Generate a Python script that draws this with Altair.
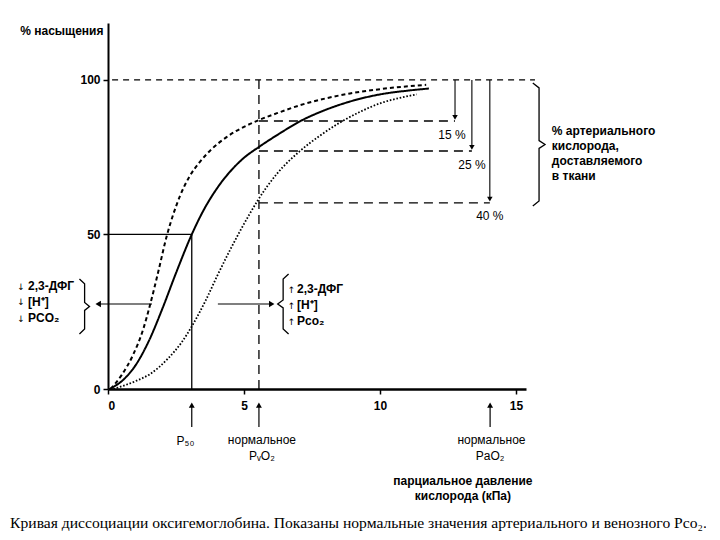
import altair as alt
import pandas as pd

# ---------------- data ----------------
normal_x = [0.05, 0.5, 1.0, 1.5, 2.0, 2.5, 3.08, 3.5, 4.0, 4.6, 5.0, 5.55, 6.3, 7.06, 8.0, 8.9, 10.0, 11.0, 11.8]
normal_y = [0, 2.5, 7.5, 15.5, 26, 37.5, 50, 57.6, 64.8, 71.4, 74.8, 78.3, 82.6, 86.6, 90.3, 93.0, 95.3, 96.5, 97.2]

left_x = [0.1, 0.5, 0.92, 1.3, 1.54, 1.85, 2.16, 2.4, 2.65, 3.0, 3.38, 3.8, 4.36, 5.0, 5.55, 6.3, 7.06, 8.0, 8.9, 10.0, 11.7]
left_y = [0, 4.5, 11, 19.5, 27, 38, 49.5, 56.5, 62.5, 68.8, 73.5, 77.5, 81.5, 84.8, 87.0, 89.5, 91.8, 94.0, 95.6, 97.0, 98.4]

right_x = [0.2, 1.0, 1.54, 2.2, 2.7, 3.13, 3.6, 4.0, 4.49, 4.85, 5.2, 5.52, 6.2, 7.06, 7.8, 8.53, 9.3, 10.1, 10.8, 11.35]
right_y = [0, 2.5, 4.8, 9.8, 15, 21, 28.8, 36.3, 45, 51, 56.5, 61.2, 69.5, 77, 82, 86.2, 89.8, 92.7, 94.3, 95.3]

P50 = 3.08
PV = 5.55
PA = 14.05
levels = [86.7, 77.0, 60.2]
level_labels = ["15 %", "25 %", "40 %"]
level_end_x = [12.76, 13.38, 14.04]

x_ticks = [0, 5, 10, 15]
y_ticks = [0, 50, 100]

FONT = "Liberation Sans"

xs = alt.Scale(domain=[0, 15.37], nice=False, zero=False)
ys = alt.Scale(domain=[0, 118.4], nice=False, zero=False)

xaxis = alt.Axis(values=x_ticks, title="", grid=False, domainColor="black", domainWidth=2.5,
                 tickColor="black", tickWidth=1.5, tickSize=5, labelFont=FONT, labelFontSize=12,
                 labelFontWeight="bold", labelColor="black", labelPadding=6, format="d")
yaxis = alt.Axis(values=y_ticks, title="% насыщения", grid=False, domainColor="black", domainWidth=2,
                 tickColor="black", tickWidth=1.5, tickSize=5, labelFont=FONT, labelFontSize=12,
                 labelFontWeight="bold", labelColor="black", labelPadding=3, format="d",
                 titleAngle=0, titleAlign="right", titleBaseline="middle", titleX=-5, titleY=7,
                 titleFont=FONT, titleFontSize=12, titleFontWeight="bold", titleColor="black")

X = alt.X("x:Q", scale=xs, axis=xaxis)
Y = alt.Y("y:Q", scale=ys, axis=yaxis)
X2 = alt.X2("x2:Q")
Y2 = alt.Y2("y2:Q")

# ---------------- curves ----------------
def curve(xv, yv, dash, width):
    df = pd.DataFrame({"x": xv, "y": yv})
    return alt.Chart(df).mark_line(color="black", strokeWidth=width, strokeDash=dash,
                                   interpolate="monotone").encode(x=X, y=Y)

c_normal = curve(normal_x, normal_y, [1, 0], 2)
c_left = curve(left_x, left_y, [4, 3], 2)
c_right = curve(right_x, right_y, [1.6, 1.8], 1.8)

# ---------------- guide lines ----------------
solid_rules = pd.DataFrame({
    "x": [0, P50], "x2": [P50, P50], "y": [50, 0], "y2": [50, 50]})
r_p50 = alt.Chart(solid_rules).mark_rule(color="black", strokeWidth=1.3).encode(x=X, x2=X2, y=Y, y2=Y2)

top_line = pd.DataFrame({"x": [0.15], "x2": [15.7], "y": [100], "y2": [100]})
r_top = alt.Chart(top_line).mark_rule(color="black", strokeWidth=1.2, strokeDash=[6, 5]).encode(
    x=X, x2=X2, y=Y, y2=Y2)

dash_rules = pd.DataFrame({
    "x": [PV] + [PV] * 3, "x2": [PV] + level_end_x,
    "y": [0] + levels, "y2": [100] + levels})
r_dash = alt.Chart(dash_rules).mark_rule(color="black", strokeWidth=1.3, strokeDash=[9, 6]).encode(
    x=X, x2=X2, y=Y, y2=Y2)

# vertical arrows of delivered oxygen
arr_v = pd.DataFrame({"x": level_end_x, "x2": level_end_x, "y": [100] * 3, "y2": [l + 1.5 for l in levels]})
r_arr_v = alt.Chart(arr_v).mark_rule(color="black", strokeWidth=1.1).encode(x=X, x2=X2, y=Y, y2=Y2)
tri_v = pd.DataFrame({"x": level_end_x, "y": [l + 1.2 for l in levels]})
p_tri_v = alt.Chart(tri_v).mark_point(shape="triangle-down", filled=True, color="black", size=30,
                                      opacity=1).encode(x=X, y=Y)

# horizontal shift arrows
harr = pd.DataFrame({"x": [1.62, 4.04], "x2": [-0.35, 6.0], "y": [27.5, 27.5], "y2": [27.5, 27.5]})
r_harr = alt.Chart(harr).mark_rule(color="black", strokeWidth=1.2).encode(x=X, x2=X2, y=Y, y2=Y2)
tri_l = pd.DataFrame({"x": [-0.36], "y": [27.5]})
p_tri_l = alt.Chart(tri_l).mark_point(shape="triangle-left", filled=True, color="black", size=40,
                                      opacity=1).encode(x=X, y=Y)
tri_r = pd.DataFrame({"x": [6.02], "y": [27.5]})
p_tri_r = alt.Chart(tri_r).mark_point(shape="triangle-right", filled=True, color="black", size=40,
                                      opacity=1).encode(x=X, y=Y)

# arrows below x axis
below_x = [P50, PV, PA]
barr = pd.DataFrame({"x": below_x, "x2": below_x, "y": [-12.3] * 3, "y2": [-5.5] * 3})
r_barr = alt.Chart(barr).mark_rule(color="black", strokeWidth=1.2).encode(x=X, x2=X2, y=Y, y2=Y2)
tri_u = pd.DataFrame({"x": below_x, "y": [-5.2] * 3})
p_tri_u = alt.Chart(tri_u).mark_point(shape="triangle-up", filled=True, color="black", size=35,
                                      opacity=1).encode(x=X, y=Y)

# ---------------- brackets ----------------
brackets = [
    # name, x of hooks, x of spine, x of tip, top, bottom
    ("left", -1.05, -0.86, -0.68, 35.6, 17.8),
    ("right", 6.64, 6.44, 6.24, 37.2, 17.8),
    ("big", 15.62, 15.85, 16.07, 99.0, 59.2),
]
rows = []
for name, xh, xv, xt, top, bot in brackets:
    mid = (top + bot) / 2
    d = 1.6
    pts = [(xh, top), (xv, top - d), (xv, mid + d * 0.8), (xt, mid), (xv, mid - d * 0.8),
           (xv, bot + d), (xh, bot)]
    for i, (px, py) in enumerate(pts):
        rows.append({"b": name, "o": i, "x": px, "y": py})
br = alt.Chart(pd.DataFrame(rows)).mark_line(color="black", strokeWidth=1.3, interpolate="linear").encode(
    x=X, y=Y, detail="b:N", order="o:Q")

# ---------------- texts ----------------
def texts(xv, yv, tv, size=12, weight="bold", align="left", font=FONT, baseline="middle"):
    df = pd.DataFrame({"x": xv, "y": yv, "t": tv})
    return alt.Chart(df).mark_text(font=font, fontSize=size, fontWeight=weight, align=align,
                                   baseline=baseline, color="black").encode(x=X, y=Y, text="t:N")

left_labels = ["2,3-ДФГ", "[H⁺]", "PCO₂"]
right_labels = ["2,3-ДФГ", "[H⁺]", "Pco₂"]
delivered_lines = ["% артериального", "кислорода,", "доставляемого", "в ткани"]
axis_title_lines = ["парциальное давление", "кислорода (кПа)"]
caption = "Кривая диссоциации оксигемоглобина. Показаны нормальные значения артериального и венозного Pco₂."

t_left = texts([-2.94] * 3, [33.3, 28.3, 23.1], left_labels)
t_left_ar = texts([-3.2] * 3, [33.0, 28.0, 22.8], ["↓"] * 3, size=9, weight="normal", align="center",
                  font="DejaVu Sans")
t_right = texts([6.95] * 3, [32.4, 27.2, 22.0], right_labels)
t_right_ar = texts([6.75] * 3, [32.1, 26.9, 21.7], ["↑"] * 3, size=9, weight="normal", align="center",
                   font="DejaVu Sans")
t_levels = texts([12.65, 13.38, 14.04], [82.3, 72.6, 56.0], level_labels, weight="normal", align="center")
t_deliv = texts([16.32] * 4, [83.5, 78.6, 73.8, 68.9], delivered_lines)
t_below = texts([2.85, 5.66, 5.66, 14.1, 14.05], [-16.8, -16.5, -21.7, -16.5, -21.7],
                ["P₅₀", "нормальное", "PᵥO₂", "нормальное", "PaO₂"], weight="normal", align="center")
t_xtitle = texts([13.05, 13.05], [-29.8, -34.6], axis_title_lines, align="center")
t_caption = texts([-3.6], [-43.4], [caption], size=15.6, weight="normal", font="Liberation Serif")

chart = alt.layer(
    c_normal, c_left, c_right, r_p50, r_top, r_dash, r_arr_v, p_tri_v, r_harr, p_tri_l, p_tri_r,
    r_barr, p_tri_u, br, t_left, t_left_ar, t_right, t_right_ar, t_levels, t_deliv, t_below,
    t_xtitle, t_caption
).properties(
    width=418, height=366,
    autosize=alt.AutoSizeParams(type="none"),
    padding={"left": 100, "top": 15, "right": 180, "bottom": 150},
    background="white",
).configure_view(stroke=None)

chart.save("out.html", embed_options={"renderer": "svg", "actions": False})
